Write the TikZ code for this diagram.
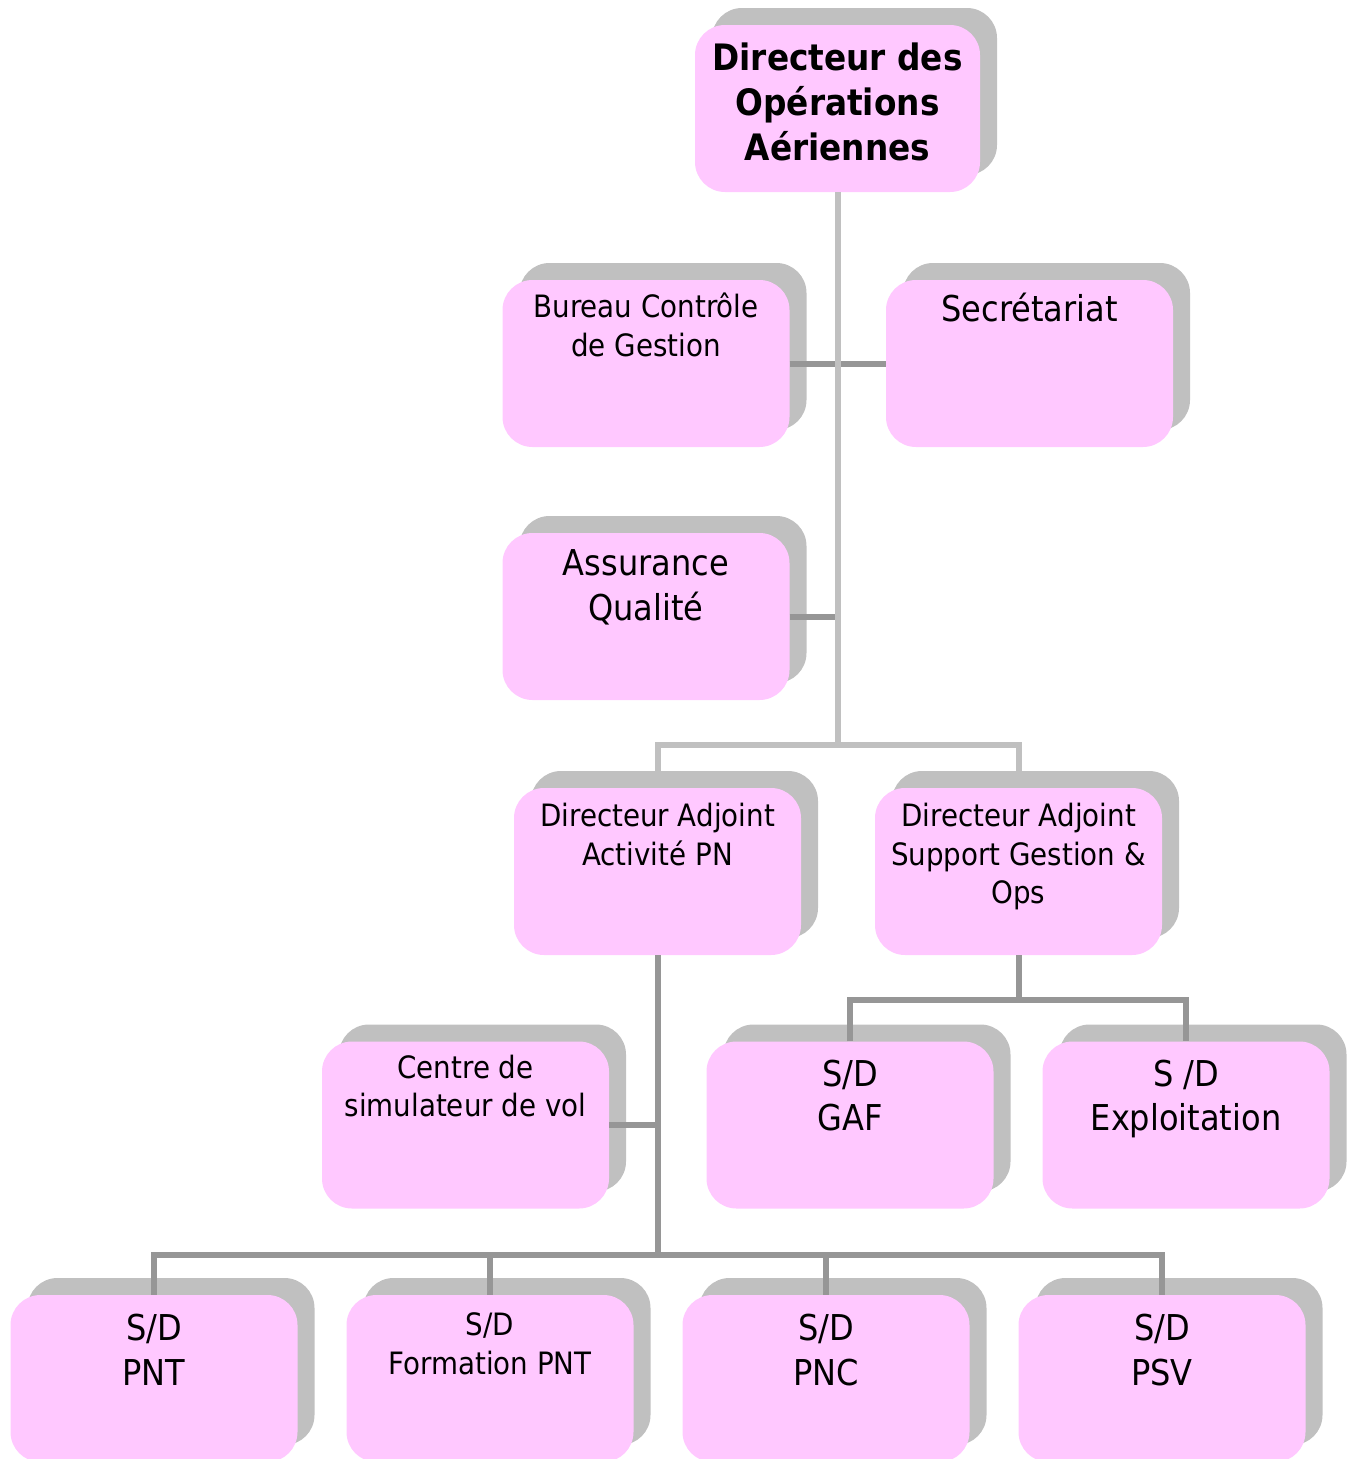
\documentclass[tikz,border=0pt]{standalone}
\usepackage{fontspec}
\setmainfont{DejaVu Sans}[FakeStretch=0.9]
\usetikzlibrary{shadows}
\definecolor{boxpink}{RGB}{255,200,255}
\definecolor{shadowgray}{RGB}{192,192,192}
\definecolor{lightline}{RGB}{192,192,192}
\definecolor{darkline}{RGB}{150,150,150}
\begin{document}
\begin{tikzpicture}[x=1pt,y=-1pt,
  box/.style={fill=boxpink, rounded corners=30pt, minimum width=287pt, minimum height=167pt, inner sep=0pt,
    drop shadow={shadow xshift=17pt, shadow yshift=17pt, fill=shadowgray, opacity=1}},
  txtsmall/.style={font=\fontsize{30.8pt}{38.5pt}\selectfont, align=center, anchor=base, inner sep=0pt},
  txtbig/.style={font=\fontsize{35.6pt}{44.5pt}\selectfont, align=center, anchor=base, inner sep=0pt},
  txtbold/.style={font=\fontsize{36.4pt}{45pt}\selectfont\bfseries, align=center, anchor=base, inner sep=0pt},
  lnlight/.style={draw=lightline, line width=6pt},
  lndark/.style={draw=darkline, line width=6pt}]
\useasboundingbox (0,0) rectangle (1353,1459);
% boxes
\node[box, minimum width=285pt] (dir) at (837.5,108.5) {};
\node[box] (bcg) at (646,363.5) {};
\node[box] (sec) at (1029.5,363.5) {};
\node[box] (aq) at (646,616.5) {};
\node[box] (daa) at (657.5,871.5) {};
\node[box] (das) at (1018.5,871.5) {};
\node[box] (csv) at (465.5,1125) {};
\node[box] (gaf) at (850,1125) {};
\node[box] (exp) at (1186,1125) {};
\node[box] (pnt) at (154,1378.5) {};
\node[box] (fpnt) at (490,1378.5) {};
\node[box] (pnc) at (826,1378.5) {};
\node[box] (psv) at (1162,1378.5) {};
% texts (base = last line)
\node[txtbold] (dir-t) at ([yshift=-136pt]dir.north) {Directeur des\\Opérations\\Aériennes};
\node[txtsmall] (bcg-t) at ([yshift=-76.5pt]bcg.north) {Bureau Contrôle\\de Gestion};
\node[txtbig] (sec-t) at ([yshift=-42pt]sec.north) {Secrétariat};
\node[txtbig] (aq-t) at ([yshift=-87.5pt]aq.north) {Assurance\\Qualité};
\node[txtsmall] (daa-t) at ([yshift=-77.5pt]daa.north) {Directeur Adjoint\\Activité PN};
\node[txtsmall] (das-t) at ([yshift=-116pt]das.north) {Directeur Adjoint\\Support Gestion \&\\Ops};
\node[txtsmall] (csv-t) at ([yshift=-75.5pt]csv.north) {Centre de\\simulateur de vol};
\node[txtbig] (gaf-t) at ([yshift=-89.5pt]gaf.north) {S/D\\GAF};
\node[txtbig] (exp-t) at ([yshift=-89.5pt]exp.north) {S /D\\Exploitation};
\node[txtbig] (pnt-t) at ([yshift=-90.5pt]pnt.north) {S/D\\PNT};
\node[txtsmall] (fpnt-t) at ([yshift=-79.5pt]fpnt.north) {S/D\\Formation PNT};
\node[txtbig] (pnc-t) at ([yshift=-90.5pt]pnc.north) {S/D\\PNC};
\node[txtbig] (psv-t) at ([yshift=-90.5pt]psv.north) {S/D\\PSV};
% connectors
\coordinate (jtop) at (837.5,745);
\coordinate (jsup) at (1018.5,1000);
\coordinate (jpn) at (657.5,1255);
\draw[lndark] (bcg.east) -- (sec.west);
\draw[lndark] (aq.east) -- (aq.east -| dir.south);
\draw[lnlight] (dir.south) -- (jtop);
\draw[lnlight] (daa.north) |- (jtop) -| (das.north);
\draw[lndark] (das.south) -- (jsup);
\draw[lndark] (gaf.north) |- (jsup) -| (exp.north);
\draw[lndark] (csv.east) -- (csv.east -| daa.south);
\draw[lndark] (daa.south) -- (jpn);
\draw[lndark] (pnt.north) |- (jpn) -| (psv.north);
\draw[lndark] (fpnt.north) -- (fpnt.north |- jpn);
\draw[lndark] (pnc.north) -- (pnc.north |- jpn);
\end{tikzpicture}
\end{document}
